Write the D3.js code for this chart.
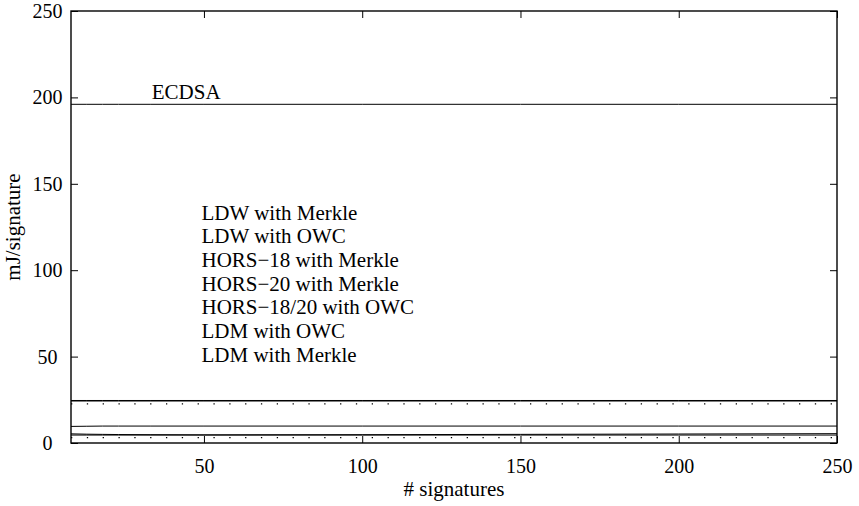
<!DOCTYPE html>
<html>
<head>
<meta charset="utf-8">
<script src="https://cdn.jsdelivr.net/npm/d3@7"></script>
<style>
  html, body { margin: 0; padding: 0; background: #fff; }
  svg { display: block; font-family: "Liberation Serif", "Times New Roman", serif; }
</style>
</head>
<body>
<svg id="chart" width="859" height="506"></svg>
<script>
// Energy cost per signature versus the number of signatures
const sigCounts = [8, 13, 18, 23, 33, 50, 100, 150, 200, 250];

const ecdsa        = [196, 196, 196, 196, 196, 196, 196, 196, 196, 196];
const ldwMerkle    = [9.6, 9.7, 9.8, 9.8, 9.8, 9.8, 9.8, 9.8, 9.8, 9.8];
const ldwOwc       = [5.3, 5.1, 5.0, 4.9, 4.8, 4.7, 4.8, 5.0, 5.2, 5.4];
const hors18Merkle = [24.6, 24.6, 24.6, 24.6, 24.6, 24.6, 24.6, 24.6, 24.6, 24.6];
const hors20Merkle = [24.3, 24.3, 24.3, 24.3, 24.3, 24.3, 24.3, 24.3, 24.3, 24.3];
const hors1820Owc  = [22.6, 22.6, 22.6, 22.6, 22.6, 22.6, 22.6, 22.6, 22.6, 22.6];
const ldmOwc       = [3.1, 3.1, 3.1, 3.1, 3.1, 3.1, 3.1, 3.1, 3.1, 3.1];
const ldmMerkle    = [4.6, 4.6, 4.6, 4.6, 4.6, 4.6, 4.6, 4.6, 4.6, 4.6];

const legendNames = [
  "LDW with Merkle",
  "LDW with OWC",
  "HORS\u221218 with Merkle",
  "HORS\u221220 with Merkle",
  "HORS\u221218/20 with OWC",
  "LDM with OWC",
  "LDM with Merkle"
];
const legendSeries = [ldwMerkle, ldwOwc, hors18Merkle, hors20Merkle, hors1820Owc, ldmOwc, ldmMerkle];
const legendDotted = [false, false, false, false, true, true, false];

const xTicks = [50, 100, 150, 200, 250];
const yTicks = [0, 50, 100, 150, 200, 250];
const xDomain = [8, 250];
const yDomain = [0, 250];

const svg = d3.select("#chart");
const L = 71, R = 837, T = 11, B = 443;
const tickFont = 20;
const textFont = 21;
const tickLen = 7;

const x = d3.scaleLinear().domain(xDomain).range([L, R]);
const y = d3.scaleLinear().domain(yDomain).range([B, T]);

// clip everything drawn inside the axes box
svg.append("defs").append("clipPath").attr("id", "plotClip")
  .append("rect").attr("x", L).attr("y", T).attr("width", R - L).attr("height", B - T);

const plot = svg.append("g").attr("clip-path", "url(#plotClip)");

const line = d3.line()
  .curve(d3.curveMonotoneX)
  .x((d, i) => x(sigCounts[i]))
  .y(d => y(d));

// dotted pattern: one dot per 5 signatures
const dotPeriod = x(13) - x(8);

function drawSeries(values, dotted) {
  const p = plot.append("path")
    .datum(values)
    .attr("d", line)
    .attr("fill", "none")
    .attr("stroke", "#000")
    .attr("stroke-width", dotted ? 1.2 : 1);
  if (dotted) p.attr("stroke-dasharray", `1.3 ${dotPeriod - 1.3}`);
}

drawSeries(ecdsa, false);
legendSeries.forEach((s, i) => drawSeries(s, legendDotted[i]));

// axes with inward ticks, mirrored on the top and right
const axes = svg.append("g");
const xAxisB = d3.axisBottom(x).tickValues(xTicks).tickSize(-tickLen).tickPadding(16).tickFormat(d3.format("d"));
const xAxisT = d3.axisTop(x).tickValues(xTicks).tickSize(-tickLen).tickFormat("");
const yAxisL = d3.axisLeft(y).tickValues(yTicks).tickSize(-tickLen).tickFormat(d3.format("d"));
const yAxisR = d3.axisRight(y).tickValues(yTicks).tickSize(-tickLen).tickFormat("");

function styleAxis(g) {
  g.select(".domain").remove();
  g.selectAll(".tick line").attr("stroke", "#000").attr("stroke-width", 1);
  g.selectAll(".tick text")
    .attr("fill", "#000")
    .style("font-size", tickFont + "px")
    .style("font-family", '"Liberation Serif", "Times New Roman", serif');
}

axes.append("g").attr("transform", `translate(0,${B})`).call(xAxisB).call(styleAxis);
axes.append("g").attr("transform", `translate(0,${T})`).call(xAxisT).call(styleAxis);
const gyl = axes.append("g").attr("transform", `translate(${L},0)`).call(yAxisL).call(styleAxis);
// y tick labels are centred in a column left of the axis
gyl.selectAll(".tick text").attr("text-anchor", "middle").attr("x", 47.5 - L);
axes.append("g").attr("transform", `translate(${R},0)`).call(yAxisR).call(styleAxis);

// axes box
svg.append("rect")
  .attr("x", L).attr("y", T).attr("width", R - L).attr("height", B - T)
  .attr("fill", "none").attr("stroke", "#000").attr("stroke-width", 1.4);

// ECDSA label sitting above its line
svg.append("text")
  .attr("x", x(33.5)).attr("y", y(ecdsa[0]) - 5)
  .style("font-size", textFont + "px")
  .text("ECDSA");

// legend (text entries)
const legend = svg.append("g");
legendNames.forEach((name, i) => {
  legend.append("text")
    .attr("x", 201.5)
    .attr("y", 219.5 + i * 23.7)
    .style("font-size", textFont + "px")
    .text(name);
});

// axis titles
svg.append("text")
  .attr("x", (L + R) / 2).attr("y", 496)
  .attr("text-anchor", "middle")
  .style("font-size", textFont + "px")
  .text("# signatures");

svg.append("text")
  .attr("transform", `translate(20,${(T + B) / 2}) rotate(-90)`)
  .attr("text-anchor", "middle")
  .style("font-size", textFont + "px")
  .text("mJ/signature");
</script>
</body>
</html>
